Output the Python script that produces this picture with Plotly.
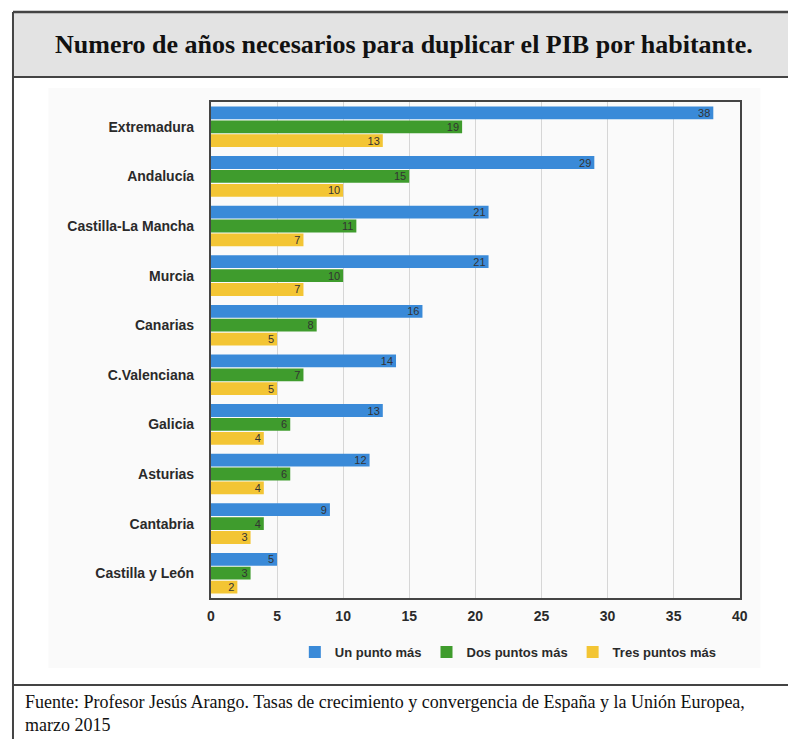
import plotly.graph_objects as go

# page is shown with an 8px body margin: figure placed at (8, 8)
OFF = 8
W, H = 796 - OFF, 747 - 2 * OFF

categories = ["Extremadura", "Andalucía", "Castilla-La Mancha", "Murcia", "Canarias",
              "C.Valenciana", "Galicia", "Asturias", "Cantabria", "Castilla y León"]
un_punto = [38, 29, 21, 21, 16, 14, 13, 12, 9, 5]
dos_puntos = [19, 15, 11, 10, 8, 7, 6, 6, 4, 3]
tres_puntos = [13, 10, 7, 7, 5, 5, 4, 4, 3, 2]
series_names = ["Un punto más", "Dos puntos más", "Tres puntos más"]
series_colors = ["#3a8ad8", "#3f9c2d", "#f3c534"]
x_ticks = [0, 5, 10, 15, 20, 25, 30, 35, 40]

title = "Numero de años necesarios para duplicar el PIB por habitante."
figure_label = "FIGURA 10.1"
source = ("Fuente: Profesor Jesús Arango. Tasas de crecimiento y convergencia de España y la Unión Europea,"
          "<br>marzo 2015")


def px(x):
    return (x - OFF) / W


def py(y):
    return 1 - (y - OFF) / H


chart_font = dict(family="Liberation Sans, Arial, sans-serif", size=14, color="#2a2a2a", weight="bold")

fig = go.Figure()
for name, vals, col in zip(series_names, [un_punto, dos_puntos, tres_puntos], series_colors):
    fig.add_trace(go.Bar(
        y=categories, x=vals, name=name, orientation="h",
        marker=dict(color=col, line=dict(width=0)),
        text=[str(v) for v in vals], textposition="inside", insidetextanchor="end",
        textangle=0,
        textfont=dict(family="Liberation Sans, Arial, sans-serif", size=11, color="#333"),
        constraintext="none", cliponaxis=False,
    ))

shapes = [
    dict(type="rect", xref="paper", yref="paper", x0=px(45), x1=px(768), y0=py(668), y1=py(88),
         fillcolor="#fafafa", line=dict(width=0), layer="below"),
    dict(type="rect", xref="paper", yref="paper", x0=px(9), x1=px(800), y0=py(77), y1=py(12),
         fillcolor="#e3e3e3", line=dict(width=0), layer="below"),
    dict(type="line", xref="paper", yref="paper", x0=px(9), x1=px(800), y0=py(12), y1=py(12),
         line=dict(color="#444", width=2.5)),
    dict(type="line", xref="paper", yref="paper", x0=px(9), x1=px(800), y0=py(77), y1=py(77),
         line=dict(color="#444", width=2)),
    dict(type="line", xref="paper", yref="paper", x0=px(9), x1=px(800), y0=py(685), y1=py(685),
         line=dict(color="#444", width=2)),
    dict(type="line", xref="paper", yref="paper", x0=px(9), x1=px(9), y0=py(12), y1=py(760),
         line=dict(color="#444", width=2)),
]

annotations = [
    dict(text=figure_label, xref="paper", yref="paper", x=px(398), y=py(11), xanchor="center",
         yanchor="bottom", showarrow=False,
         font=dict(family="Liberation Serif, serif", size=10, color="#111", weight="bold")),
    dict(text=title, xref="paper", yref="paper", x=px(406), y=py(45), xanchor="center",
         yanchor="middle", showarrow=False,
         font=dict(family="Liberation Serif, serif", size=26, color="#111", weight="bold")),
    dict(text=source, xref="paper", yref="paper", x=px(19), y=py(713), xanchor="left",
         yanchor="middle", align="left", showarrow=False,
         font=dict(family="Liberation Serif, serif", size=18, color="#111")),
]

fig.update_layout(
    width=W, height=H, autosize=False,
    margin=dict(l=0, r=0, t=0, b=0),
    paper_bgcolor="white", plot_bgcolor="white",
    barmode="group", bargap=0.16, bargroupgap=0.08,
    shapes=shapes, annotations=annotations,
    showlegend=True,
    legend=dict(orientation="h", x=px(512), y=py(652), xanchor="center", yanchor="middle",
                font=dict(family="Liberation Sans, Arial, sans-serif", size=13, color="#2a2a2a", weight="bold"),
                bgcolor="rgba(0,0,0,0)", itemwidth=30, traceorder="normal"),
    xaxis=dict(domain=[px(210), px(747)], range=[0, 40], tickvals=x_ticks,
               ticktext=[str(t) for t in x_ticks],
               showgrid=True, gridcolor="#d6d6d6", gridwidth=1,
               showline=True, linecolor="#444", linewidth=2, mirror=True,
               ticks="outside", ticklen=4, tickcolor="rgba(0,0,0,0)",
               zeroline=False, tickfont=chart_font, fixedrange=True),
    yaxis=dict(domain=[py(598), py(102)], autorange="reversed",
               showline=True, linecolor="#444", linewidth=2, mirror=True,
               ticks="outside", ticklen=12, tickcolor="rgba(0,0,0,0)",
               showgrid=False, tickfont=chart_font, fixedrange=True),
)

fig.write_html("out.html")
